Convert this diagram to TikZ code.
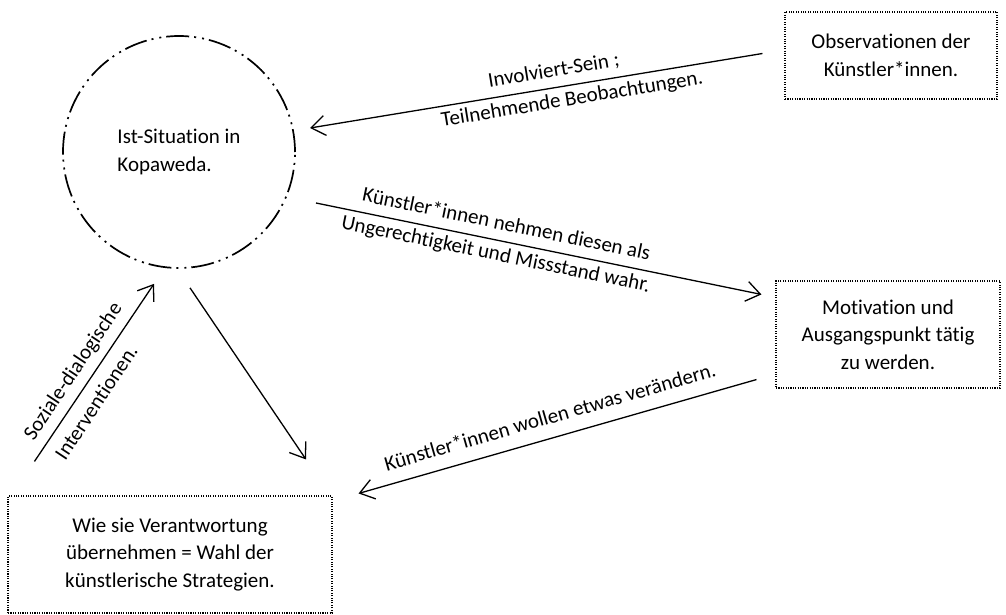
\documentclass[tikz,border=0pt]{standalone}
\usepackage{fontspec}
\setmainfont[Ligatures=NoCommon]{Carlito}
\usetikzlibrary{arrows.meta}
\begin{document}
\begin{tikzpicture}[x=1pt,y=-1pt,
  txt/.style={font=\fontsize{21}{27.5}\selectfont},
  dbox/.style={txt,draw,line width=1.1pt,dash pattern=on 1.1pt off 1.3pt,align=center,inner sep=0pt},
  ring/.style={txt,circle,draw,line width=1.7pt,dash pattern=on 23pt off 5pt on 2pt off 6pt on 2pt off 5pt,align=left,inner sep=0pt,minimum size=232pt},
  arr/.style={line width=1.3pt,-{Straight Barb[length=14pt,width=20pt,line width=1.3pt]}},
  lab/.style={txt,inner sep=0pt}]
\useasboundingbox (0,0) rectangle (1006,615);
\node[ring] (circ) at (179,152) {Ist-Situation in\\Kopaweda.};
\node[dbox,minimum width=212pt,minimum height=87pt] (obs) at (891,55.5) {Observationen der\\Künstler*innen.};
\node[dbox,minimum width=224pt,minimum height=107pt] (mot) at (888,334.5) {Motivation und\\Ausgangspunkt tätig\\zu werden.};
\node[dbox,minimum width=324pt,minimum height=117pt] (bot) at (170,554.5) {Wie sie Verantwortung\\übernehmen = Wahl der\\künstlerische Strategien.};
% arrows
\draw[arr] ([xshift=-22pt,yshift=2pt]obs.west) -- ([xshift=131pt,yshift=24pt]circ.center)
  node[lab,pos=0.455,anchor=base,xshift=-1.8pt,yshift=10.9pt,rotate=9.34] {Involviert-Sein ;}
  node[lab,pos=0.426,anchor=north,xshift=0.8pt,yshift=-4.9pt,rotate=9.34] {Teilnehmende Beobachtungen.};
\draw[arr] ([xshift=137pt,yshift=-51pt]circ.center) -- ([xshift=-14pt,yshift=-14pt]mot.north west)
  node[lab,pos=0.42,anchor=base,xshift=2.2pt,yshift=10.8pt,rotate=-11.66] {Künstler*innen nehmen diesen als}
  node[lab,pos=0.41,anchor=north,xshift=-1pt,yshift=-4.9pt,rotate=-11.66] {Ungerechtigkeit und Missstand wahr.};
\draw[arr] ([xshift=-19pt,yshift=9pt]mot.south west) -- ([xshift=26pt,yshift=2pt]bot.north east)
  node[lab,pos=0.504,anchor=base,xshift=-3.9pt,yshift=13.5pt,rotate=16.08] {Künstler*innen wollen etwas verändern.};
\draw[arr] ([xshift=11pt,yshift=-19pt]circ.south) -- ([xshift=136pt,yshift=36pt]bot.north);
\draw[arr] ([xshift=27pt,yshift=34pt]bot.north west) -- ([xshift=-25pt,yshift=-15pt]circ.south)
  node[lab,pos=0.45,anchor=base,xshift=-10pt,yshift=6.6pt,rotate=56.4] {Soziale-dialogische}
  node[lab,pos=0.39,anchor=north,xshift=8.3pt,yshift=-5.5pt,rotate=56.4] {Interventionen.};
\end{tikzpicture}
\end{document}
